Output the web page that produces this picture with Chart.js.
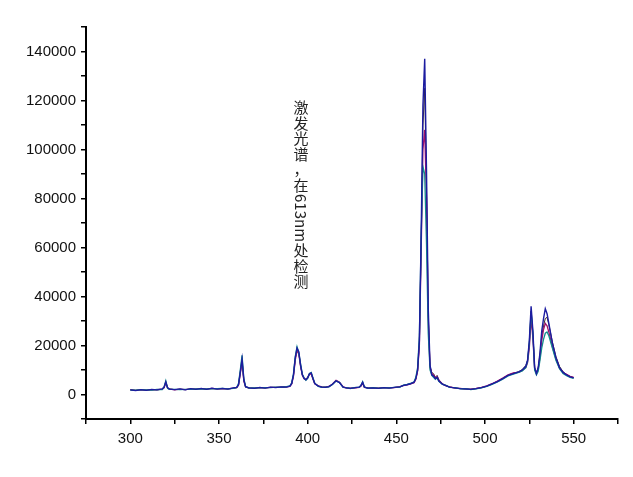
<!DOCTYPE html>
<html>
<head>
<meta charset="utf-8">
<script src="https://cdn.jsdelivr.net/npm/chart.js@4/dist/chart.umd.min.js"></script>
<style>
  html, body { margin: 0; padding: 0; background: #fff; }
  #wrap { width: 633px; height: 477px; }
</style>
</head>
<body>
<div id="wrap"><canvas id="espectro" width="633" height="477"></canvas></div>
<script>
// comprimento de onda (nm)
const comprimentos = [
  300, 303, 306, 309, 312, 315, 318, 319, 320, 321,
  322, 325, 328, 331, 334, 337, 340, 343, 346, 349,
  352, 355, 358, 360, 361, 362, 363, 364, 365, 367,
  370, 373, 376, 379, 382, 385, 388, 390, 391, 392,
  393, 394, 395, 396, 397, 398, 399, 400, 401, 402,
  403, 404, 406, 408, 410, 412, 414, 416, 418, 420,
  422, 424, 427, 429, 430, 431, 432, 434, 437, 440,
  443, 446, 449, 452, 454, 456, 458, 460, 461, 462,
  463, 464, 465, 466, 467, 468, 469, 470, 471, 472,
  473, 474, 476, 478, 480, 483, 486, 489, 492, 495,
  498, 501, 504, 507, 510, 513, 516, 519, 521, 523,
  524, 525, 526, 527, 528, 529, 530, 531, 532, 533,
  534, 535, 536, 538, 540, 542, 544, 546, 548, 550
];

const serieAzul = [
  1900, 1600, 2000, 1700, 2100, 1900, 2300, 2900, 5200, 2800,
  2200, 2000, 2300, 1900, 2400, 2100, 2500, 2100, 2600, 2200,
  2500, 2200, 2700, 2900, 4000, 9000, 14500, 6000, 3200, 2700,
  2500, 2900, 2600, 3000, 2800, 3100, 3000, 3400, 4500, 8000,
  15000, 19000, 17500, 12000, 8000, 6500, 6000, 6800, 8500, 8800,
  6500, 4500, 3400, 3000, 2900, 3200, 4200, 5600, 4800, 3000,
  2700, 2500, 2800, 3000, 3600, 5000, 3000, 2600, 2700, 2500,
  2800, 2600, 2900, 3100, 3700, 4000, 4400, 5000, 6500, 10000,
  22000, 65000, 118000, 137000, 92000, 35000, 12000, 8000, 7500, 6500,
  7000, 5500, 4200, 3600, 3000, 2700, 2400, 2300, 2100, 2400,
  2800, 3400, 4300, 5300, 6500, 7800, 8500, 9200, 10000, 11500,
  14000, 22000, 36000, 26000, 11000, 8500, 11000, 17000, 26000, 31000,
  35000, 33000, 29000, 21000, 15000, 11000, 9000, 8000, 7200, 6800
];

const serieMagenta = [
  2000, 1700, 1900, 1800, 2000, 2000, 2200, 2700, 4800, 2600,
  2300, 1900, 2200, 2000, 2300, 2200, 2400, 2200, 2500, 2300,
  2400, 2300, 2600, 2800, 3800, 8500, 13500, 5500, 3100, 2600,
  2600, 2800, 2700, 2900, 2900, 3000, 3100, 3300, 4300, 7500,
  14000, 18000, 16500, 11500, 7800, 6400, 6200, 6900, 8200, 8400,
  6300, 4400, 3500, 3100, 3000, 3300, 4300, 5800, 5000, 3100,
  2600, 2600, 2700, 2900, 3400, 4600, 2900, 2700, 2600, 2600,
  2700, 2700, 2800, 3200, 3600, 3900, 4300, 4800, 6200, 9500,
  20000, 58000, 100000, 108000, 80000, 30000, 11000, 8500, 8000, 6800,
  7200, 5800, 4300, 3500, 3100, 2600, 2500, 2200, 2200, 2500,
  2900, 3500, 4400, 5500, 6700, 8000, 8800, 9000, 9800, 11000,
  13000, 19000, 31000, 23000, 10500, 8800, 10500, 15000, 22000, 26500,
  29000, 28000, 25500, 19500, 14500, 10800, 9000, 8200, 7400, 7000
];

const serieVerde = [
  1800, 1800, 1900, 1900, 1800, 2100, 2000, 3000, 5600, 2500,
  2100, 2100, 2000, 2100, 2100, 2300, 2200, 2300, 2300, 2400,
  2500, 2300, 2500, 2900, 4500, 10000, 16000, 6500, 3200, 2600,
  2700, 2700, 2800, 2800, 3000, 2900, 3200, 3500, 4800, 8500,
  15500, 19500, 17000, 12500, 8300, 6800, 5800, 6600, 8600, 9000,
  6700, 4600, 3300, 2900, 3000, 3100, 4100, 5500, 4900, 2900,
  2800, 2400, 2900, 2900, 3700, 5200, 3100, 2500, 2800, 2500,
  2800, 2700, 2900, 3000, 3800, 4100, 4500, 5200, 7000, 11000,
  24000, 64000, 93000, 90000, 62000, 25000, 10000, 7800, 7000, 6200,
  6800, 5400, 4100, 3700, 2900, 2800, 2300, 2400, 2000, 2300,
  2700, 3300, 4100, 5100, 6300, 7600, 8300, 9000, 9600, 11000,
  13500, 21000, 34000, 25000, 10000, 8000, 9500, 14000, 19000, 22500,
  25000, 25500, 24000, 19000, 14000, 10500, 8600, 7700, 7000, 6600
];

const seriePreta = [
  1900, 1700, 2000, 1800, 1900, 1900, 2100, 2700, 5000, 2700,
  2200, 2000, 2100, 2000, 2200, 2200, 2300, 2200, 2400, 2300,
  2400, 2300, 2500, 2800, 3900, 8800, 14000, 5800, 3100, 2600,
  2600, 2800, 2700, 2900, 2900, 3000, 3100, 3400, 4400, 7800,
  14500, 18500, 17000, 11800, 8000, 6600, 6100, 6800, 8400, 8600,
  6400, 4500, 3400, 3000, 3000, 3200, 4200, 5700, 4900, 3000,
  2700, 2500, 2800, 2900, 3500, 4800, 3000, 2600, 2700, 2600,
  2800, 2700, 2900, 3100, 3700, 4000, 4400, 4900, 6400, 9800,
  21000, 62000, 110000, 125000, 86000, 33000, 11500, 9000, 8500, 7000,
  7800, 6000, 4400, 3600, 3100, 2700, 2400, 2300, 2100, 2400,
  2800, 3400, 4300, 5400, 6600, 7900, 8700, 9300, 10200, 11800,
  14000, 21000, 34000, 25000, 11000, 8600, 10800, 16500, 24000, 28000,
  31000, 31500, 28500, 21500, 15500, 11500, 9300, 8100, 7300, 6900
];

const rotulosY = [0, 20000, 40000, 60000, 80000, 100000, 120000, 140000];
const rotulosX = [300, 350, 400, 450, 500, 550];
const anotacao = '激发光谱，在613nm处检测';

function pontos(valores) {
  return comprimentos.map((x, i) => ({ x: x, y: valores[i] }));
}

function serie(valores, cor, largura) {
  return {
    data: pontos(valores),
    borderColor: cor,
    borderWidth: largura,
    pointRadius: 0,
    tension: 0,
    fill: false
  };
}

// texto vertical: caracteres CJK em pé, latinos girados 90 graus
const textoVertical = {
  id: 'textoVertical',
  afterDraw(chart) {
    const c = chart.ctx;
    c.save();
    c.fillStyle = '#222';
    c.font = '15px "Noto Sans CJK SC"';
    let y = 100;
    const xc = 301;
    let latino = '';
    const desenhaLatino = () => {
      if (!latino) return;
      const w = c.measureText(latino).width;
      c.save();
      c.translate(xc, y + 1);
      c.rotate(Math.PI / 2);
      c.textAlign = 'left';
      c.textBaseline = 'middle';
      c.fillText(latino, 0, 0);
      c.restore();
      y += w + 2;
      latino = '';
    };
    for (const ch of anotacao) {
      if (/[0-9a-zA-Z]/.test(ch)) { latino += ch; continue; }
      desenhaLatino();
      c.textAlign = 'center';
      c.textBaseline = 'top';
      c.fillText(ch, xc, y);
      y += 15.5;
    }
    desenhaLatino();
    c.restore();
  }
};

// o primeiro conjunto fica por cima
const chart = new Chart(document.getElementById('espectro'), {
  type: 'line',
  data: {
    datasets: [
      serie(serieAzul, '#1c1ca0', 1.4),
      serie(serieVerde, '#108c8c', 1.3),
      serie(serieMagenta, '#a0106e', 1.3),
      serie(seriePreta, '#3a2a2a', 1)
    ]
  },
  options: {
    responsive: false,
    animation: false,
    layout: { padding: { top: 27, right: 15, left: 0, bottom: 0 } },
    plugins: { legend: { display: false }, tooltip: { enabled: false } },
    scales: {
      x: {
        type: 'linear',
        min: 275,
        max: 575,
        afterFit: s => { s.height = 58; },
        afterBuildTicks: s => {
          s.ticks = [];
          for (let v = 275; v <= 575; v += 25) s.ticks.push({ value: v });
        },
        ticks: {
          color: '#111',
          font: { family: 'Liberation Sans', size: 15 },
          padding: 6,
          maxRotation: 0,
          autoSkip: false,
          callback: v => rotulosX.includes(v) ? String(v) : ''
        },
        grid: { drawOnChartArea: false, drawTicks: true, tickLength: 5, color: '#000', lineWidth: 1.5 },
        border: { color: '#000', width: 2 }
      },
      y: {
        min: -10000,
        max: 150000,
        afterFit: s => { s.width = 86; },
        afterBuildTicks: s => {
          s.ticks = [];
          for (let v = -10000; v <= 150000; v += 10000) s.ticks.push({ value: v });
        },
        ticks: {
          color: '#111',
          font: { family: 'Liberation Sans', size: 15 },
          padding: 5,
          autoSkip: false,
          callback: v => rotulosY.includes(v) ? String(v) : ''
        },
        grid: { drawOnChartArea: false, drawTicks: true, tickLength: 5, color: '#000', lineWidth: 1.5 },
        border: { color: '#000', width: 2 }
      }
    }
  },
  plugins: [textoVertical]
});
</script>
</body>
</html>
